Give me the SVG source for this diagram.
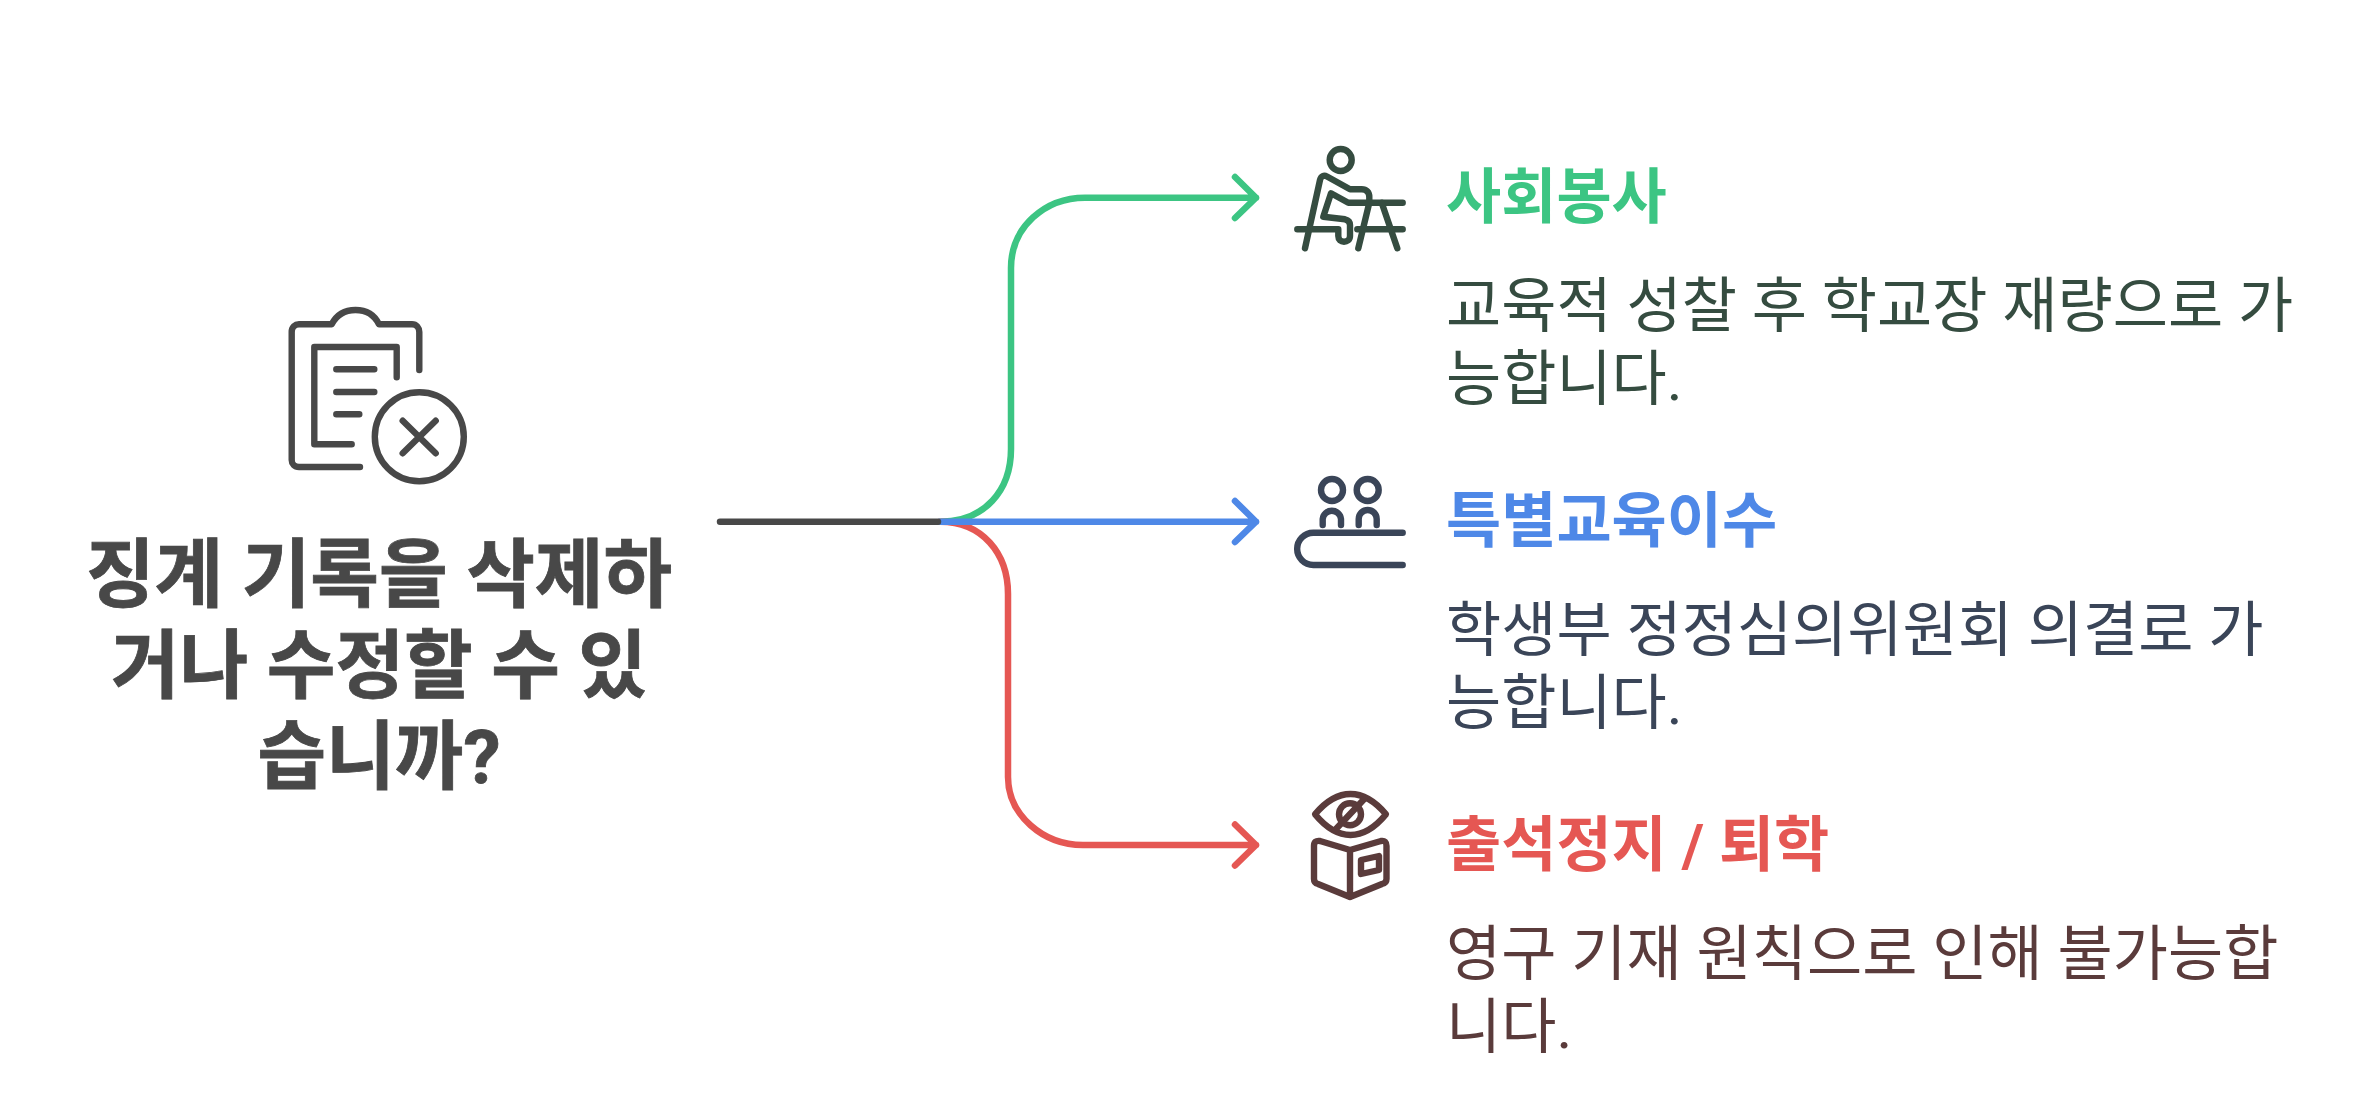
<svg xmlns="http://www.w3.org/2000/svg" width="2376" height="1097" viewBox="0 0 2376 1097">
<style>
text{font-family:Roboto,"Noto Sans CJK KR","Noto Sans",sans-serif}
.t{font-size:74.600px;font-weight:700;fill:#484848;text-anchor:middle;stroke:#484848;stroke-width:.8px}
.h{font-size:60px;font-weight:700}
.b{font-size:60px;font-weight:400}
.i{fill:none;stroke-width:6.400;stroke-linecap:round;stroke-linejoin:round}
.c{fill:none;stroke-width:6.500;stroke-linecap:round;stroke-linejoin:round}
</style>
<rect width="2376" height="1097" fill="#fff"/>
<g id="connectors">
<path class="c" stroke="#3CC583" d="M940 521.700C985 521.700 1011 490 1011 449V268C1011 227 1045 197.700 1085 197.700H1256M1235 177L1256 197.700L1235 218"/>
<path class="c" stroke="#E55753" d="M940 521.700C982 521.700 1008 553 1008 594V777C1008 815 1043 845 1083 845H1256M1235 824.500L1256 845L1235 865.500"/>
<path class="c" stroke="#4E88E7" d="M940 521.700H1256M1235 501L1256 521.700L1235 542"/>
<path class="c" stroke="#484848" d="M720 521.700H938"/>
</g>
<g id="root">
<g class="i" stroke="#484848">
<path d="M360 467H299C294.500 467 291.700 464 291.700 460V332C291.700 327 295 324.300 299 324.300H331.700C337 314 345 310 355.500 310C366 310 374 314 379 324.300H412C416.500 324.300 419.300 328 419.300 332V370"/>
<path d="M351.700 444.300H314.300V347H396.700V377.300"/>
<path d="M336.300 369.300H374.300M336.300 392H374.300M336.300 414.300H359.300"/>
<circle cx="419.300" cy="436.700" r="44.500"/>
<path d="M402.700 420.700L435.700 453.300M435.700 420.700L402.700 453.300"/>
</g>
<text class="t" x="379" y="601">징계 기록을 삭제하</text>
<text class="t" x="379" y="692">거나 수정할 수 있</text>
<text class="t" x="379" y="783">습니까?</text>
</g>
<g id="node-1">
<g class="i" stroke="#354C40">
<circle cx="1340.700" cy="160" r="11"/>
<path d="M1305 248.300L1320 180C1321 176 1324 175 1327 176.500L1350 189.300H1361.700C1366.500 189.300 1369.300 192 1369.300 197V202.700L1358.300 248.300"/>
<path d="M1402.700 202.700H1348.300L1331 193.300L1323.300 216.700L1345 219.300C1348 220 1350 222 1350 225V236C1350 240 1347 241.700 1344 241.700C1341 241.700 1338.300 240 1338.300 236V229.300H1297.300"/>
<path d="M1357.300 229.300H1402.700M1381.700 202.700L1397.300 248.300"/>
</g>
<text class="h" x="1446" y="218" fill="#3CC583">사회봉사</text>
<text class="b" x="1446" y="326.500" fill="#354C40">교육적 성찰 후 학교장 재량으로 가</text>
<text class="b" x="1446" y="399.500" fill="#354C40">능합니다.</text>
</g>
<g id="node-2">
<g class="i" stroke="#3A4558">
<circle cx="1332" cy="490" r="11"/><circle cx="1367.700" cy="490" r="11"/>
<path d="M1322.700 525V519A9.200 9.200 0 0 1 1341 519V525M1358.700 525V519A9 9 0 0 1 1376.700 519V525"/>
<path d="M1402.700 532.700H1313.300A16 16 0 0 0 1313.300 565H1402.700"/>
</g>
<text class="h" x="1446" y="542" fill="#4E88E7">특별교육이수</text>
<text class="b" x="1446" y="650.500" fill="#3A4558">학생부 정정심의위원회 의결로 가</text>
<text class="b" x="1446" y="723.500" fill="#3A4558">능합니다.</text>
</g>
<g id="node-3">
<g class="i" stroke="#5A3B3B">
<path d="M1315 814.300Q1332 794 1350.500 794Q1369 794 1386 814.300Q1369 835 1350.500 835Q1332 835 1315 814.300Z"/>
<circle cx="1350" cy="814.300" r="11"/>
<path d="M1335 830L1364 799.300"/>
<path d="M1350 850L1320 841Q1314 840 1314 846V879Q1314 883 1318 884L1350 897L1382 884Q1386.500 883 1386.500 879V846Q1386.500 840 1381 841L1350 850V897"/>
<path d="M1361 860L1379 856V870L1361 874Z"/>
</g>
<text class="h" x="1446" y="866" fill="#E55753">출석정지 / 퇴학</text>
<text class="b" x="1446" y="974.500" fill="#5A3B3B">영구 기재 원칙으로 인해 불가능합</text>
<text class="b" x="1446" y="1047.500" fill="#5A3B3B">니다.</text>
</g>
</svg>
